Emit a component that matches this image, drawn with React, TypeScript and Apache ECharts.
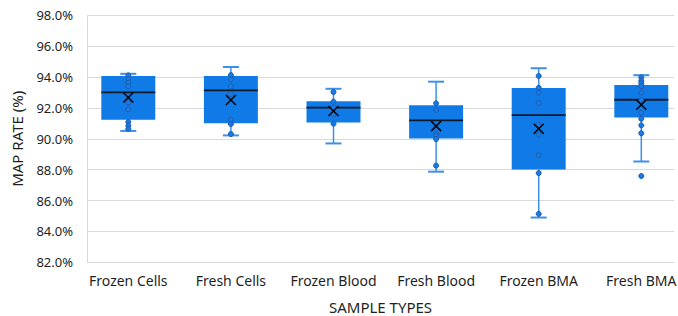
import React, { useEffect, useRef } from "react";
import * as echarts from "echarts";

const categories = ["Frozen Cells", "Fresh Cells", "Frozen Blood", "Fresh Blood", "Frozen BMA", "Fresh BMA"];
const whiskerMin = [90.51, 90.22, 89.7, 87.87, 84.9, 88.53];
const q1 = [91.24, 91.0, 91.05, 90.02, 88.01, 91.38];
const median = [93.01, 93.14, 92.02, 91.2, 91.54, 92.53];
const q3 = [94.07, 94.07, 92.44, 92.18, 93.29, 93.49];
const whiskerMax = [94.21, 94.65, 93.24, 93.7, 94.57, 94.12];
const means = [92.67, 92.51, 91.8, 90.82, 90.65, 92.2];

const pointsFrozenCells = [94.11, 93.85, 93.63, 93.4, 92.36, 91.91, 91.09, 90.85, 90.64];
const pointsFreshCells = [94.13, 93.85, 93.39, 92.91, 91.25, 90.96, 90.31];
const pointsFrozenBlood = [93.03, 92.41, 92.02, 91.59, 90.98];
const pointsFreshBlood = [92.3, 91.87, 90.34, 90.2, 89.98, 88.26];
const pointsFrozenBMA = [94.07, 93.31, 92.99, 92.32, 90.92, 90.27, 88.94, 87.78, 85.14];
const pointsFreshBMA = [93.98, 93.76, 93.59, 93.42, 92.99, 92.51, 91.69, 91.3, 90.87, 90.36, 87.59];

const yTicks = { min: 82, max: 98, interval: 2 };

const FONT = "Noto Sans";
const BOX_COLOR = "#107be6";
const WHISKER_COLOR = "#3d8fe9";

export default function App() {
  const ref = useRef<HTMLDivElement>(null);

  useEffect(() => {
    if (!ref.current) return;
    const chart = echarts.init(ref.current, undefined, { renderer: "svg" });

    const boxData = categories.map((_, i) => [i, whiskerMin[i], q1[i], median[i], q3[i], whiskerMax[i]]);
    const meanData = categories.map((_, i) => [i, means[i]]);
    const allPoints = [
      pointsFrozenCells,
      pointsFreshCells,
      pointsFrozenBlood,
      pointsFreshBlood,
      pointsFrozenBMA,
      pointsFreshBMA,
    ];
    const pointData: number[][] = [];
    allPoints.forEach((arr, i) => arr.forEach((v) => pointData.push([i, v])));

    const option: any = {
      animation: false,
      textStyle: { fontFamily: FONT },
      grid: [
        { left: 87, right: 4, top: 15.3, bottom: 53.7, outerBoundsMode: "none" },
        { left: 77, width: 615.6, top: 15.3, bottom: 53.7, outerBoundsMode: "none" },
      ],
      xAxis: [
        {
          type: "category",
          gridIndex: 0,
          data: categories,
          axisLine: { show: false },
          axisTick: { show: false },
          axisLabel: { show: false },
          name: "SAMPLE TYPES",
          nameLocation: "middle",
          nameGap: 37,
          nameTextStyle: { fontFamily: FONT, fontSize: 15, color: "#1f1f1f" },
        },
        {
          type: "category",
          gridIndex: 1,
          data: categories,
          axisLine: { show: false },
          axisTick: { show: false },
          axisLabel: { fontFamily: FONT, fontSize: 14, color: "#1f1f1f", margin: 11, interval: 0 },
        },
      ],
      yAxis: [
        {
          type: "value",
          gridIndex: 0,
          min: yTicks.min,
          max: yTicks.max,
          interval: yTicks.interval,
          axisLine: { show: true, lineStyle: { color: "#d9d9d9", width: 1 } },
          axisTick: { show: false },
          splitLine: { lineStyle: { color: "#d9d9d9", width: 1 } },
          axisLabel: {
            fontFamily: FONT,
            fontSize: 13,
            color: "#1f1f1f",
            margin: 14,
            formatter: (v: number) => v.toFixed(1) + "%",
          },
          name: "MAP RATE (%)",
          nameLocation: "middle",
          nameGap: 63,
          nameTextStyle: { fontFamily: FONT, fontSize: 15, color: "#1f1f1f" },
        },
        {
          type: "value",
          gridIndex: 1,
          min: yTicks.min,
          max: yTicks.max,
          interval: yTicks.interval,
          show: false,
        },
      ],
      series: [
        {
          type: "custom",
          xAxisIndex: 1,
          yAxisIndex: 1,
          data: boxData,
          encode: { x: 0, y: [1, 2, 3, 4, 5] },
          z: 2,
          renderItem: (params: any, api: any) => {
            const idx = api.value(0);
            const lo = api.coord([idx, api.value(1)]);
            const q1p = api.coord([idx, api.value(2)]);
            const medp = api.coord([idx, api.value(3)]);
            const q3p = api.coord([idx, api.value(4)]);
            const hi = api.coord([idx, api.value(5)]);
            const bw = api.size([1, 0])[0];
            const boxHalf = bw * 0.263;
            const capHalf = bw * 0.078;
            const x = lo[0];
            return {
              type: "group",
              children: [
                {
                  type: "line",
                  shape: { x1: x, y1: q3p[1], x2: x, y2: hi[1] },
                  style: { stroke: WHISKER_COLOR, lineWidth: 1.5 },
                },
                {
                  type: "line",
                  shape: { x1: x, y1: q1p[1], x2: x, y2: lo[1] },
                  style: { stroke: WHISKER_COLOR, lineWidth: 1.5 },
                },
                {
                  type: "line",
                  shape: { x1: x - capHalf, y1: hi[1], x2: x + capHalf, y2: hi[1] },
                  style: { stroke: WHISKER_COLOR, lineWidth: 2 },
                },
                {
                  type: "line",
                  shape: { x1: x - capHalf, y1: lo[1], x2: x + capHalf, y2: lo[1] },
                  style: { stroke: WHISKER_COLOR, lineWidth: 2 },
                },
                {
                  type: "rect",
                  shape: { x: x - boxHalf, y: q3p[1], width: boxHalf * 2, height: q1p[1] - q3p[1] },
                  style: { fill: BOX_COLOR },
                },
                {
                  type: "line",
                  shape: { x1: x - boxHalf, y1: medp[1], x2: x + boxHalf, y2: medp[1] },
                  style: { stroke: "#0d1a2a", lineWidth: 1.8 },
                },
              ],
            };
          },
        },
        {
          type: "scatter",
          xAxisIndex: 1,
          yAxisIndex: 1,
          data: pointData,
          symbol: "circle",
          symbolSize: 5,
          z: 3,
          itemStyle: { color: "#1a7ae4", borderColor: "#1a5cad", borderWidth: 1, opacity: 1 },
        },
        {
          type: "custom",
          xAxisIndex: 1,
          yAxisIndex: 1,
          data: meanData,
          encode: { x: 0, y: 1 },
          z: 4,
          renderItem: (params: any, api: any) => {
            const p = api.coord([api.value(0), api.value(1)]);
            const s = 5;
            return {
              type: "group",
              children: [
                {
                  type: "line",
                  shape: { x1: p[0] - s, y1: p[1] - s, x2: p[0] + s, y2: p[1] + s },
                  style: { stroke: "#000", lineWidth: 1.5 },
                },
                {
                  type: "line",
                  shape: { x1: p[0] - s, y1: p[1] + s, x2: p[0] + s, y2: p[1] - s },
                  style: { stroke: "#000", lineWidth: 1.5 },
                },
              ],
            };
          },
        },
      ],
    };

    chart.setOption(option);
    return () => chart.dispose();
  }, []);

  return (
    <div
      ref={ref}
      style={{ position: "fixed", left: 0, top: 0, width: 678, height: 316, background: "#fff" }}
    />
  );
}
